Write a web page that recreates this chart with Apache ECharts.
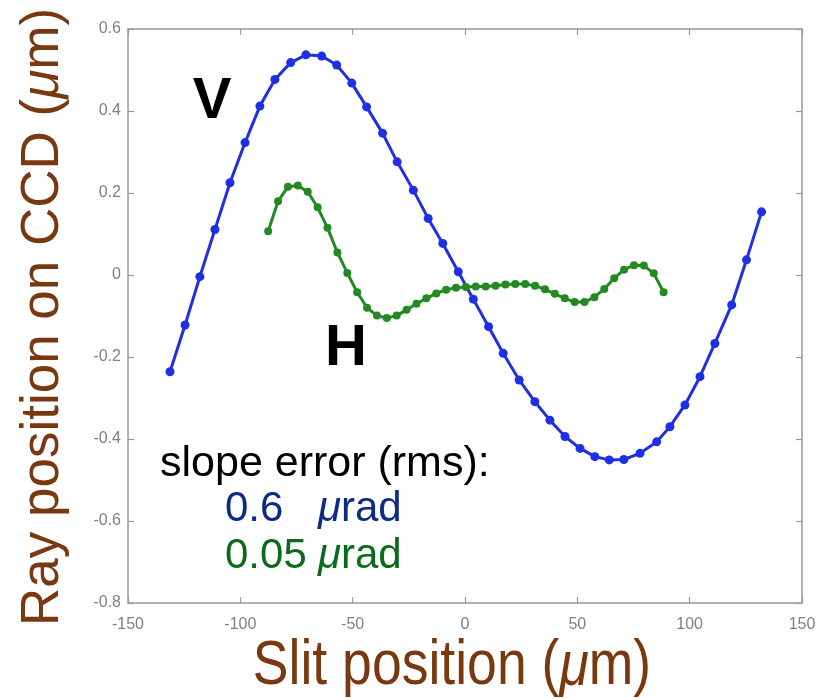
<!DOCTYPE html>
<html>
<head>
<meta charset="utf-8">
<script src="https://cdn.jsdelivr.net/npm/echarts@6/dist/echarts.min.js"></script>
<style>html,body{margin:0;padding:0;background:#fff;}#c{width:821px;height:699px;}</style>
</head>
<body>
<div id="c"></div>
<script>
// Vertical (V) profile: slit position (um) vs ray position (um)
var vX = [-131.3,-124.6,-118,-111.3,-104.6,-97.9,-91.3,-84.6,-77.6,-70.8,-63.8,-57.1,-50.4,-43.8,-36.7,-30.2,-23.0,-16.4,-9.9,-3.0,3.7,10.5,17,24.1,31.1,37.8,44.5,51.2,57.8,64.2,70.7,77.9,85.3,91.2,97.9,104.6,111.2,118.7,125.3,132];
var vY = [-0.236,-0.122,-0.004,0.111,0.225,0.323,0.412,0.477,0.518,0.537,0.534,0.512,0.468,0.41,0.346,0.276,0.207,0.138,0.077,0.008,-0.059,-0.126,-0.191,-0.256,-0.309,-0.354,-0.394,-0.423,-0.443,-0.451,-0.45,-0.435,-0.407,-0.37,-0.317,-0.248,-0.167,-0.073,0.037,0.154];
// Horizontal (H) profile
var hX = [-87.6,-83.2,-78.8,-74.4,-70,-65.6,-61.2,-56.8,-52.4,-48,-43.6,-39.2,-34.8,-30.4,-26,-21.6,-17.2,-12.8,-8.4,-4,0.4,4.8,9.2,13.6,18,22.4,26.8,31.2,35.6,40,44.4,48.8,53.2,57.6,62,66.4,70.8,75.2,79.6,84,88.4];
var hY = [0.107,0.18,0.215,0.218,0.203,0.165,0.115,0.055,0.005,-0.042,-0.08,-0.099,-0.105,-0.099,-0.085,-0.07,-0.057,-0.045,-0.036,-0.031,-0.029,-0.028,-0.028,-0.026,-0.023,-0.022,-0.022,-0.026,-0.035,-0.046,-0.057,-0.066,-0.066,-0.054,-0.034,-0.008,0.013,0.024,0.023,0.004,-0.042];
var xTicks = [-150,-100,-50,0,50,100,150];
var yTicks = [-0.8,-0.6,-0.4,-0.2,0,0.2,0.4,0.6];

function pairs(xs, ys){ return xs.map(function(x,i){ return [x, ys[i]]; }); }

var brown = '#7a3810';
var sans = '"Liberation Sans",Arial,sans-serif';
var tickFont = {color:'#808080', fontFamily:sans, fontSize:16};
var axisLine = {show:true, onZero:false, lineStyle:{color:'#9a9a9a', width:1.5}};
var tick = {show:true, inside:true, length:6, lineStyle:{color:'#9a9a9a', width:1.2}};

var chart = echarts.init(document.getElementById('c'), null, {renderer:'canvas'});
chart.setOption({
  animation:false,
  backgroundColor:'#fff',
  grid:{left:128, right:19, top:29, bottom:96, containLabel:false},
  xAxis:[
    {type:'value', min:xTicks[0], max:xTicks[xTicks.length-1], interval:50, position:'bottom',
     axisLine:axisLine, axisTick:tick, splitLine:{show:false},
     axisLabel:Object.assign({margin:14}, tickFont)},
    {type:'value', min:xTicks[0], max:xTicks[xTicks.length-1], interval:50, position:'top',
     axisLine:axisLine, axisTick:tick, splitLine:{show:false}, axisLabel:{show:false}}
  ],
  yAxis:[
    {type:'value', min:yTicks[0], max:yTicks[yTicks.length-1], interval:0.2, position:'left',
     axisLine:axisLine, axisTick:tick, splitLine:{show:false},
     axisLabel:Object.assign({margin:7, formatter:function(v){return String(Math.round(v*10)/10);}}, tickFont)},
    {type:'value', min:yTicks[0], max:yTicks[yTicks.length-1], interval:0.2, position:'right',
     axisLine:axisLine, axisTick:tick, splitLine:{show:false}, axisLabel:{show:false}}
  ],
  series:[
    {name:'V', type:'line', xAxisIndex:0, yAxisIndex:0, data:pairs(vX,vY),
     symbol:'circle', symbolSize:9, showSymbol:true,
     lineStyle:{color:'#1f30e4', width:3}, itemStyle:{color:'#1f30e4'}},
    {name:'H', type:'line', xAxisIndex:0, yAxisIndex:0, data:pairs(hX,hY),
     symbol:'circle', symbolSize:8, showSymbol:true,
     lineStyle:{color:'#238a23', width:3}, itemStyle:{color:'#238a23'}}
  ],
  graphic:[
    {type:'text', x:452, y:667, scaleX:0.85, style:{
      text:'{a|Slit position (}{i|μ}{a|m)}', align:'center', verticalAlign:'middle',
      rich:{a:{fontFamily:sans, fontSize:63, fill:brown},
            i:{fontFamily:sans, fontStyle:'italic', fontSize:63, fill:brown}}}},
    {type:'text', x:43, y:317, rotation:Math.PI/2, style:{
      text:'{a|Ray position on CCD (}{i|μ}{a|m)}', align:'center', verticalAlign:'middle',
      rich:{a:{fontFamily:sans, fontSize:53, fill:brown},
            i:{fontFamily:sans, fontStyle:'italic', fontSize:53, fill:brown}}}},
    {type:'text', x:212, y:102, style:{text:'V', align:'center', verticalAlign:'middle',
      font:'bold 58px "Liberation Sans", Arial, sans-serif', fill:'#000'}},
    {type:'text', x:346, y:349, style:{text:'H', align:'center', verticalAlign:'middle',
      font:'bold 58px "Liberation Sans", Arial, sans-serif', fill:'#000'}},
    {type:'text', x:160, y:464, style:{text:'slope error (rms):', align:'left', verticalAlign:'middle',
      font:'43px "Liberation Sans", Arial, sans-serif', fill:'#000'}},
    {type:'text', x:225, y:509, style:{text:'0.6', align:'left', verticalAlign:'middle',
      font:'42px "Liberation Sans", Arial, sans-serif', fill:'#0d2a85'}},
    {type:'text', x:318, y:509, style:{text:'{i|μ}{a|rad}', align:'left', verticalAlign:'middle',
      rich:{a:{fontFamily:sans, fontSize:42, fill:'#0d2a85'},
            i:{fontFamily:sans, fontStyle:'italic', fontSize:42, fill:'#0d2a85'}}}},
    {type:'text', x:225, y:556, style:{text:'0.05', align:'left', verticalAlign:'middle',
      font:'42px "Liberation Sans", Arial, sans-serif', fill:'#0b6b1b'}},
    {type:'text', x:318, y:556, style:{text:'{i|μ}{a|rad}', align:'left', verticalAlign:'middle',
      rich:{a:{fontFamily:sans, fontSize:42, fill:'#0b6b1b'},
            i:{fontFamily:sans, fontStyle:'italic', fontSize:42, fill:'#0b6b1b'}}}}
  ]
});
</script>
</body>
</html>
